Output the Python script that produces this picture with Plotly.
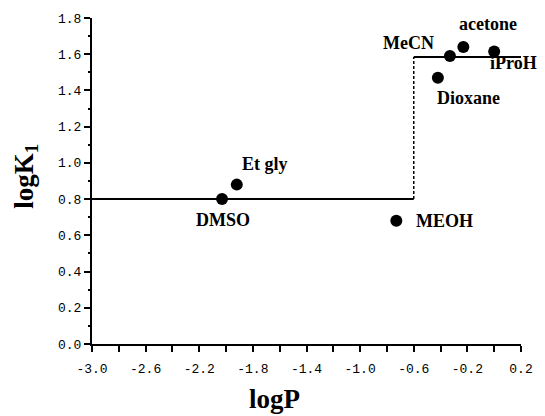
import plotly.graph_objects as go

# ---- data ----
solvents = ["DMSO", "Et gly", "MEOH", "Dioxane", "MeCN", "acetone", "iProH"]
logP = [-2.03, -1.92, -0.73, -0.42, -0.33, -0.23, 0.00]
logK1 = [0.80, 0.88, 0.68, 1.47, 1.59, 1.64, 1.615]

# step model
break_x = -0.6
level_low = 0.8
level_high = 1.585
x_start = -3.0
x_end = 0.2

x_tick_vals = [-3.0, -2.6, -2.2, -1.8, -1.4, -1.0, -0.6, -0.2, 0.2]
x_tick_text = ["-3.0", "-2.6", "-2.2", "-1.8", "-1.4", "-1.0", "-0.6", "-0.2", "0.2"]
y_tick_vals = [0.0, 0.2, 0.4, 0.6, 0.8, 1.0, 1.2, 1.4, 1.6, 1.8]
y_tick_text = ["0.0", "0.2", "0.4", "0.6", "0.8", "1.0", "1.2", "1.4", "1.6", "1.8"]

# label offsets in pixels (xshift, yshift)
label_shift = {
    "DMSO": (1, -21),
    "Et gly": (28, 21),
    "MEOH": (48, 0),
    "Dioxane": (31, -20),
    "MeCN": (-41, 13),
    "acetone": (25, 23),
    "iProH": (19, -11),
}

fig = go.Figure()

fig.add_trace(go.Scatter(x=[x_start, break_x], y=[level_low, level_low], mode="lines",
                         line=dict(color="black", width=2), showlegend=False, hoverinfo="skip"))
fig.add_trace(go.Scatter(x=[break_x, break_x], y=[level_low, level_high], mode="lines",
                         line=dict(color="black", width=1.5, dash="3px,2px"),
                         showlegend=False, hoverinfo="skip"))
fig.add_trace(go.Scatter(x=[break_x, x_end], y=[level_high, level_high], mode="lines",
                         line=dict(color="black", width=2), showlegend=False, hoverinfo="skip"))
fig.add_trace(go.Scatter(x=logP, y=logK1, mode="markers",
                         marker=dict(color="black", size=12),
                         showlegend=False, cliponaxis=False))

for name, xv, yv in zip(solvents, logP, logK1):
    dx, dy = label_shift[name]
    fig.add_annotation(x=xv, y=yv, text=name, showarrow=False, xshift=dx, yshift=dy,
                       xanchor="center", yanchor="middle",
                       font=dict(family="Liberation Serif", size=18, color="black", weight="bold"))

ML, MR, MT, MB = 92, 19, 18, 72
W, H = 545, 416
plot_w = W - ML - MR
plot_h = H - MT - MB

fig.add_annotation(xref="paper", yref="paper", x=(277 - ML) / plot_w, y=-(399 - (H - MB)) / plot_h,
                   text="logP", showarrow=False, xanchor="center", yanchor="middle",
                   font=dict(family="Liberation Serif", size=27, color="black", weight="bold"))
fig.add_annotation(xref="paper", yref="paper", x=-(ML - 25) / plot_w, y=((H - MB) - 176) / plot_h,
                   text="logK<sub>1</sub>", showarrow=False, textangle=-90,
                   xanchor="center", yanchor="middle",
                   font=dict(family="Liberation Serif", size=27, color="black", weight="bold"))

tick_font = dict(family="Liberation Mono", size=13, color="black")

fig.update_xaxes(range=[x_start, x_end], tickmode="array", tickvals=x_tick_vals,
                 ticktext=x_tick_text, ticks="outside", ticklen=6, tickwidth=1.5,
                 tickcolor="black", showline=True, linecolor="black", linewidth=2,
                 showgrid=False, zeroline=False, tickfont=tick_font, ticklabelstandoff=5,
                 minor=dict(tick0=-3.0, dtick=0.2, ticks="outside", ticklen=6,
                            tickwidth=1.5, tickcolor="black"))
fig.update_yaxes(range=[0, 1.8], tickmode="array", tickvals=y_tick_vals,
                 ticktext=y_tick_text, ticks="outside", ticklen=6, tickwidth=1.5,
                 tickcolor="black", showline=True, linecolor="black", linewidth=2,
                 showgrid=False, zeroline=False, tickfont=tick_font,
                 minor=dict(tick0=0, dtick=0.1, ticks="outside", ticklen=2, tickcolor="black"))

fig.update_layout(width=W, height=H, margin=dict(l=ML, r=MR, t=MT, b=MB),
                  plot_bgcolor="white", paper_bgcolor="white")

fig.write_html("out.html", config={"displayModeBar": False},
               post_script="document.body.style.margin='0';")
